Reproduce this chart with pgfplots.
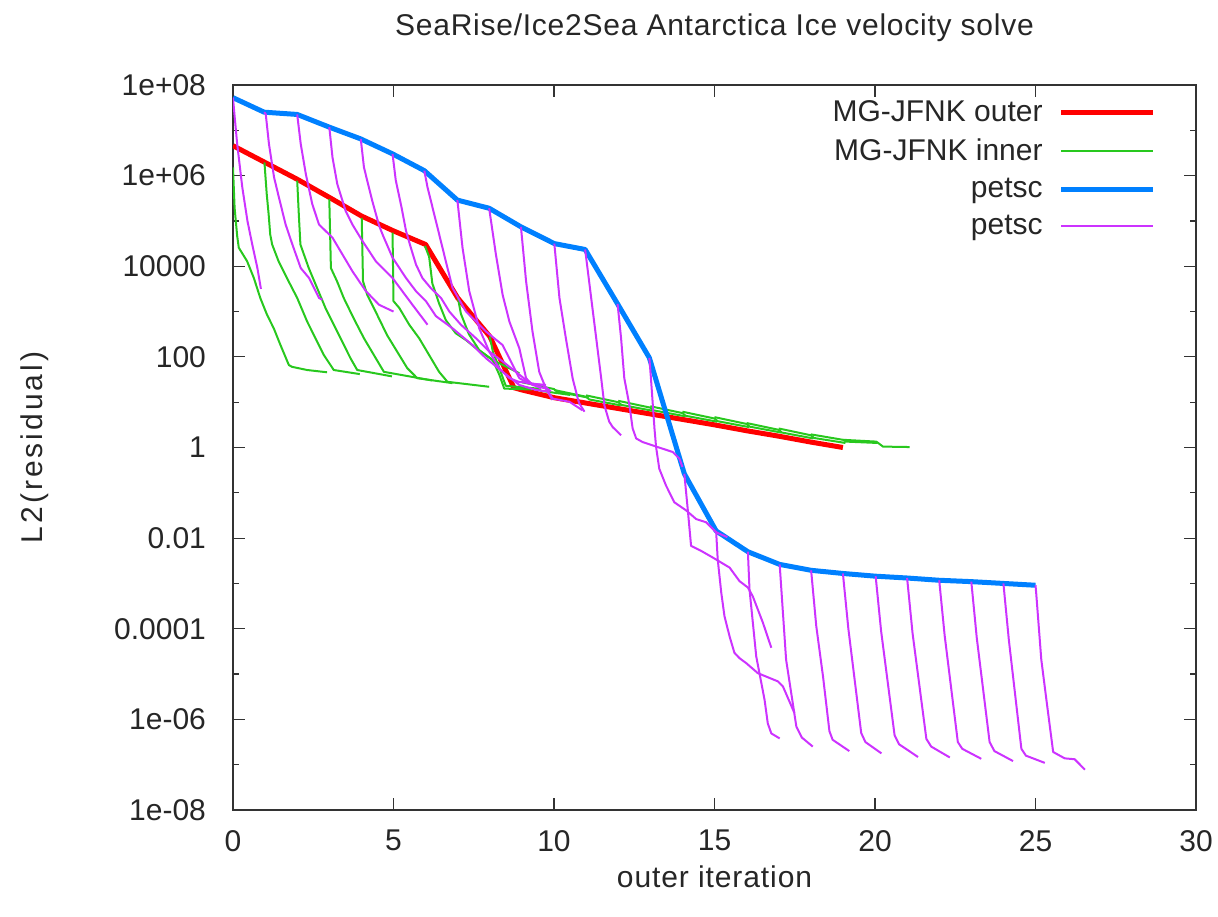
\documentclass[border=0pt]{standalone}
\usepackage{fontspec}
\setmainfont{Liberation Sans}
\newfontfamily\titlefont{Liberation Sans}[LetterSpace=2.5]
\newfontfamily\xlfont{Liberation Sans}[LetterSpace=3]
\newfontfamily\ylfont{Liberation Sans}[LetterSpace=10]
\usepackage{pgfplots}
\pgfplotsset{compat=1.18}
\definecolor{cred}{RGB}{255,0,0}
\definecolor{cgreen}{RGB}{40,200,30}
\definecolor{cblue}{RGB}{0,128,255}
\definecolor{cmag}{RGB}{204,51,255}
\newcommand{\fs}{\fontsize{15}{18}\selectfont}
\begin{document}
\begin{tikzpicture}
\useasboundingbox (-116.5pt,-53pt) rectangle (492.5pt,405pt);
\begin{axis}[
  at={(0,0)}, anchor=south west,
  scale only axis, width=481.5pt, height=362.5pt,
  xmin=0, xmax=30, ymin=-8, ymax=8,
  xtick={0,5,...,30}, xticklabels={0,5,10,15,20,25,30},
  ytick={-8,-6,...,8},
  yticklabels={1e-08,1e-06,0.0001,0.01,1,100,10000,1e+06,1e+08},
  minor ytick={-7,-5,...,7},
  tick align=inside, major tick length=6pt, minor tick length=3pt,
  tick style={black!80, line width=0.6pt},
  axis line style={black!80, line width=0.75pt},
  tick label style={font=\fs, text=black!85},
  yticklabel style={xshift=-10pt},
  xticklabel style={yshift=-6.5pt},
  every axis title shift=0pt,
  title={SeaRise/Ice2Sea Antarctica Ice velocity solve},
  title style={font=\titlefont\fs, text=black!85, at={(axis description cs:0.5,1.0828)}, anchor=center, yshift=-1.5pt},
  xlabel={outer iteration},
  xlabel style={font=\xlfont\fs, text=black!85, at={(axis description cs:0.5,-0.0924)}, anchor=center},
  ylabel={L2(residual)},
  ylabel style={font=\ylfont\fs, text=black!85, at={(axis description cs:-0.2056,0.5)}, anchor=center},
  no markers,
  every axis plot/.append style={line join=round},
  legend plot pos=right,
  legend cell align=right,
  legend image code/.code={\draw[#1] (0pt,0pt) -- (46pt,0pt);},
  legend style={draw=none, fill=none, font=\fs, text=black!85,
    at={(axis description cs:1,1)}, anchor=north east, xshift=-17pt, yshift=-3.5pt,
    row sep=3.3pt, column sep=6pt},
]
% MG-JFNK outer
\addplot[cred, line width=2.5pt] coordinates {
(0,6.66) (1,6.29) (2,5.92) (3,5.52) (4,5.11) (5,4.78) (6,4.48) (7,3.30) (8,2.45)
(8.75,1.32) (9,1.27) (10,1.10) (11,0.98) (12,0.86) (13,0.74) (14,0.62) (15,0.50)
(16,0.37) (17,0.25) (18,0.12) (19,0.00)};
\addlegendentry{MG-JFNK outer}
% MG-JFNK inner
\addplot[cgreen, line width=1pt] coordinates {
(0,6.18) (0.05,5.29) (0.13,4.67) (0.18,4.41) (0.44,4.11) (0.65,3.74) (0.85,3.30)
(1.06,2.93) (1.27,2.63) (1.48,2.26) (1.74,1.82) (1.84,1.78) (2.31,1.71) (2.93,1.66)};
\addlegendentry{MG-JFNK inner}
\addplot[cgreen, line width=1pt, forget plot] coordinates {
(0.98,6.29) (1.05,5.60) (1.11,5.15) (1.16,4.70) (1.22,4.48) (1.42,4.11) (1.68,3.74)
(2.00,3.30) (2.31,2.78) (2.57,2.41) (2.83,2.04) (3.14,1.71) (3.95,1.62)};
\addplot[cgreen, line width=1pt, forget plot] coordinates {
(2.00,5.89) (2.05,5.15) (2.10,4.48) (2.36,3.96) (2.62,3.52) (2.88,3.08) (3.14,2.71)
(3.40,2.34) (3.66,1.97) (3.87,1.71) (4.95,1.57)};
\addplot[cgreen, line width=1pt, forget plot] coordinates {
(3.00,5.48) (3.05,3.96) (3.24,3.67) (3.45,3.30) (3.76,2.85) (4.08,2.41) (4.39,2.04)
(4.70,1.67) (6.20,1.48)};
\addplot[cgreen, line width=1pt, forget plot] coordinates {
(4.01,5.07) (4.05,3.67) (4.18,3.37) (4.49,2.93) (4.80,2.48) (5.11,2.12) (5.43,1.75)
(5.74,1.53) (6.84,1.42)};
\addplot[cgreen, line width=1pt, forget plot] coordinates {
(4.97,4.74) (5.00,3.23) (5.18,3.08) (5.49,2.71) (5.80,2.41) (6.11,2.04) (6.42,1.67)
(6.68,1.45) (7.98,1.34)};
\addplot[cgreen, line width=1pt, forget plot] coordinates {
(5.98,4.45) (6.11,4.21) (6.21,3.62) (6.42,3.18) (6.63,2.81) (6.94,2.52) (7.26,2.37)
(7.57,2.19) (8.09,1.93) (8.61,1.75) (8.92,1.64)};
\addplot[cgreen, line width=1pt, forget plot] coordinates {
(7.00,3.33) (7.10,2.95) (7.35,2.50) (7.67,2.15) (8.09,1.93) (8.30,1.60) (8.45,1.30) (9.30,1.28)};
\addplot[cgreen, line width=1pt, forget plot] coordinates {
(8.00,2.45) (8.10,2.10) (8.30,1.75) (8.45,1.45) (8.50,1.36) (9.50,1.30) (9.60,1.25) (10.50,1.16)};
\addplot[cgreen, line width=1pt, forget plot] coordinates {(9,1.44) (10,1.29) (10.1,1.23) (11.08,1.10)};
\addplot[cgreen, line width=1pt, forget plot] coordinates {(10,1.27) (11,1.12) (11.1,1.06) (12.08,0.93)};
\addplot[cgreen, line width=1pt, forget plot] coordinates {(11,1.15) (12,1.00) (12.1,0.94) (13.08,0.81)};
\addplot[cgreen, line width=1pt, forget plot] coordinates {(12,1.03) (13,0.88) (13.1,0.82) (14.08,0.69)};
\addplot[cgreen, line width=1pt, forget plot] coordinates {(13,0.91) (14,0.76) (14.1,0.70) (15.08,0.57)};
\addplot[cgreen, line width=1pt, forget plot] coordinates {(14,0.79) (15,0.64) (15.1,0.58) (16.08,0.45)};
\addplot[cgreen, line width=1pt, forget plot] coordinates {(15,0.67) (16,0.52) (16.1,0.46) (17.08,0.33)};
\addplot[cgreen, line width=1pt, forget plot] coordinates {(16,0.54) (17,0.39) (17.1,0.33) (18.08,0.20)};
\addplot[cgreen, line width=1pt, forget plot] coordinates {(17,0.42) (18,0.27) (18.1,0.21) (19.08,0.10)};
\addplot[cgreen, line width=1pt, forget plot] coordinates {(18,0.29) (19,0.17) (19.1,0.13) (20.08,0.10)};
\addplot[cgreen, line width=1pt, forget plot] coordinates {(19,0.17) (20.04,0.13) (20.25,0.02) (21.08,0.01)};
% petsc outer
\addplot[cblue, line width=2.5pt] coordinates {
(0,7.72) (0.97,7.40) (2.0,7.35) (3.0,7.07) (3.98,6.81) (4.97,6.48) (5.96,6.11) (6.99,5.46)
(7.98,5.28) (8.97,4.87) (10.01,4.50) (10.97,4.37) (11.98,3.17) (12.97,1.98) (14.06,-0.58)
(15.05,-1.84) (16.04,-2.30) (17.03,-2.58) (18.01,-2.71) (19.0,-2.78) (20.02,-2.84)
(21.0,-2.88) (22.0,-2.93) (23.0,-2.96) (24.0,-3.00) (25.0,-3.04)};
\addlegendentry{petsc}
% petsc inner
\addplot[cmag, line width=1pt] coordinates {
(0,7.72) (0.03,7.47) (0.13,6.70) (0.29,5.74) (0.45,5.00) (0.60,4.48) (0.76,3.96) (0.87,3.50)};
\addlegendentry{petsc}
\addplot[cmag, line width=1pt, forget plot] coordinates {
(0.97,7.40) (1.02,7.36) (1.12,6.70) (1.28,5.96) (1.43,5.52) (1.64,4.92) (1.85,4.48)
(2.11,3.96) (2.37,3.74) (2.68,3.30) (2.78,3.26)};
\addplot[cmag, line width=1pt, forget plot] coordinates {
(2.00,7.35) (2.11,6.70) (2.27,6.03) (2.47,5.37) (2.68,4.92) (3.10,4.63) (3.41,4.26)
(3.72,3.89) (4.14,3.45) (4.55,3.15) (5.00,3.00)};
\addplot[cmag, line width=1pt, forget plot] coordinates {
(3.00,7.07) (3.10,6.40) (3.25,5.81) (3.51,5.22) (3.72,4.92) (4.03,4.56) (4.45,4.11)
(4.97,3.74) (5.59,3.15) (6.06,2.71)};
\addplot[cmag, line width=1pt, forget plot] coordinates {
(3.98,6.81) (4.08,6.18) (4.34,5.44) (4.55,4.90) (4.66,4.70) (4.97,4.19) (5.39,3.74)
(5.70,3.45) (6.01,3.23) (6.32,2.90) (6.84,2.63) (7.46,2.26) (7.88,1.97) (8.40,1.67)
(8.92,1.38) (9.44,1.27) (9.85,1.23)};
\addplot[cmag, line width=1pt, forget plot] coordinates {
(4.97,6.48) (5.07,5.90) (5.25,5.30) (5.39,4.78) (5.54,4.41) (5.70,4.04) (5.90,3.74)
(6.16,3.52) (6.48,3.30) (6.74,3.00) (7.10,2.71) (7.57,2.41) (7.98,2.12) (8.40,1.90)
(8.81,1.67) (9.20,1.45) (9.60,1.30)};
\addplot[cmag, line width=1pt, forget plot] coordinates {
(5.96,6.11) (6.06,5.74) (6.32,5.00) (6.63,4.11) (6.84,3.52) (7.26,3.00) (7.88,2.56)
(8.40,2.26) (8.92,1.53) (9.23,1.41) (9.75,1.38)};
\addplot[cmag, line width=1pt, forget plot] coordinates {
(6.99,5.46) (7.15,4.41) (7.36,3.45) (7.67,2.63) (7.98,2.12) (8.29,1.75) (8.61,1.53)
(8.90,1.45) (9.23,1.42) (9.65,1.38) (9.90,1.24)};
\addplot[cmag, line width=1pt, forget plot] coordinates {
(7.98,5.28) (8.19,4.26) (8.40,3.37) (8.61,2.78) (8.92,2.19) (9.13,1.53) (9.33,1.38)
(9.75,1.30) (9.95,1.05)};
\addplot[cmag, line width=1pt, forget plot] coordinates {
(8.97,4.87) (9.13,3.67) (9.33,2.56) (9.54,1.67) (9.75,1.30) (9.96,1.08) (10.48,1.01) (10.89,0.82)};
\addplot[cmag, line width=1pt, forget plot] coordinates {
(10.01,4.50) (10.17,3.30) (10.37,2.41) (10.58,1.53) (10.74,1.08) (10.79,0.97) (10.95,0.79)};
\addplot[cmag, line width=1pt, forget plot] coordinates {
(10.97,4.37) (11.47,1.53) (11.57,0.93) (11.72,0.57) (11.83,0.45) (12.09,0.27)};
\addplot[cmag, line width=1pt, forget plot] coordinates {
(11.98,3.17) (12.09,2.41) (12.19,1.53) (12.35,0.93) (12.45,0.42) (12.56,0.20) (12.76,0.12)
(13.23,0.01) (13.70,-0.10) (13.91,-0.25) (14.00,-0.43)};
\addplot[cmag, line width=1pt, forget plot] coordinates {
(12.97,1.98) (13.02,1.53) (13.13,0.42) (13.18,0.01) (13.28,-0.47) (13.49,-0.84) (13.75,-1.21)
(14.12,-1.39) (14.43,-1.58) (14.74,-1.65) (15.05,-1.87) (15.40,-1.98)};
\addplot[cmag, line width=1pt, forget plot] coordinates {
(14.06,-0.58) (14.17,-1.39) (14.27,-2.17) (14.58,-2.28) (14.95,-2.43) (15.47,-2.65)
(15.78,-2.95) (16.04,-3.09) (16.19,-3.28) (16.51,-3.87) (16.77,-4.42)};
\addplot[cmag, line width=1pt, forget plot] coordinates {
(15.05,-1.84) (15.10,-2.47) (15.21,-3.20) (15.31,-3.72) (15.47,-4.17) (15.62,-4.53)
(15.78,-4.65) (15.99,-4.76) (16.35,-4.98) (16.97,-5.16) (17.13,-5.27) (17.49,-5.86)};
\addplot[cmag, line width=1pt, forget plot] coordinates {
(16.04,-2.30) (16.09,-3.13) (16.30,-4.61) (16.56,-5.57) (16.66,-6.09) (16.77,-6.31) (17.03,-6.42)};
\addplot[cmag, line width=1pt, forget plot] coordinates {
(17.03,-2.58) (17.23,-4.68) (17.55,-6.16) (17.72,-6.40) (18.06,-6.60)};
\addplot[cmag, line width=1pt, forget plot] coordinates {
(18.01,-2.71) (18.17,-3.94) (18.38,-5.05) (18.58,-6.26) (18.68,-6.45) (19.20,-6.70)};
\addplot[cmag, line width=1pt, forget plot] coordinates {
(19.00,-2.78) (19.17,-4.00) (19.57,-6.30) (19.70,-6.50) (20.20,-6.75)};
\addplot[cmag, line width=1pt, forget plot] coordinates {
(20.02,-2.84) (20.19,-4.05) (20.61,-6.35) (20.75,-6.55) (21.34,-6.83)};
\addplot[cmag, line width=1pt, forget plot] coordinates {
(21.00,-2.88) (21.17,-4.10) (21.60,-6.43) (21.75,-6.60) (22.33,-6.84)};
\addplot[cmag, line width=1pt, forget plot] coordinates {
(22.00,-2.93) (22.17,-4.15) (22.58,-6.50) (22.72,-6.65) (23.31,-6.87)};
\addplot[cmag, line width=1pt, forget plot] coordinates {
(23.00,-2.96) (23.17,-4.20) (23.57,-6.50) (23.72,-6.70) (24.30,-6.92)};
\addplot[cmag, line width=1pt, forget plot] coordinates {
(24.00,-3.00) (24.17,-4.25) (24.56,-6.65) (24.70,-6.80) (25.29,-6.96)};
\addplot[cmag, line width=1pt, forget plot] coordinates {
(25.00,-3.04) (25.02,-3.20) (25.18,-4.68) (25.34,-5.57) (25.55,-6.72) (25.91,-6.86)
(26.22,-6.88) (26.54,-7.11)};
\end{axis}
\end{tikzpicture}
\end{document}
